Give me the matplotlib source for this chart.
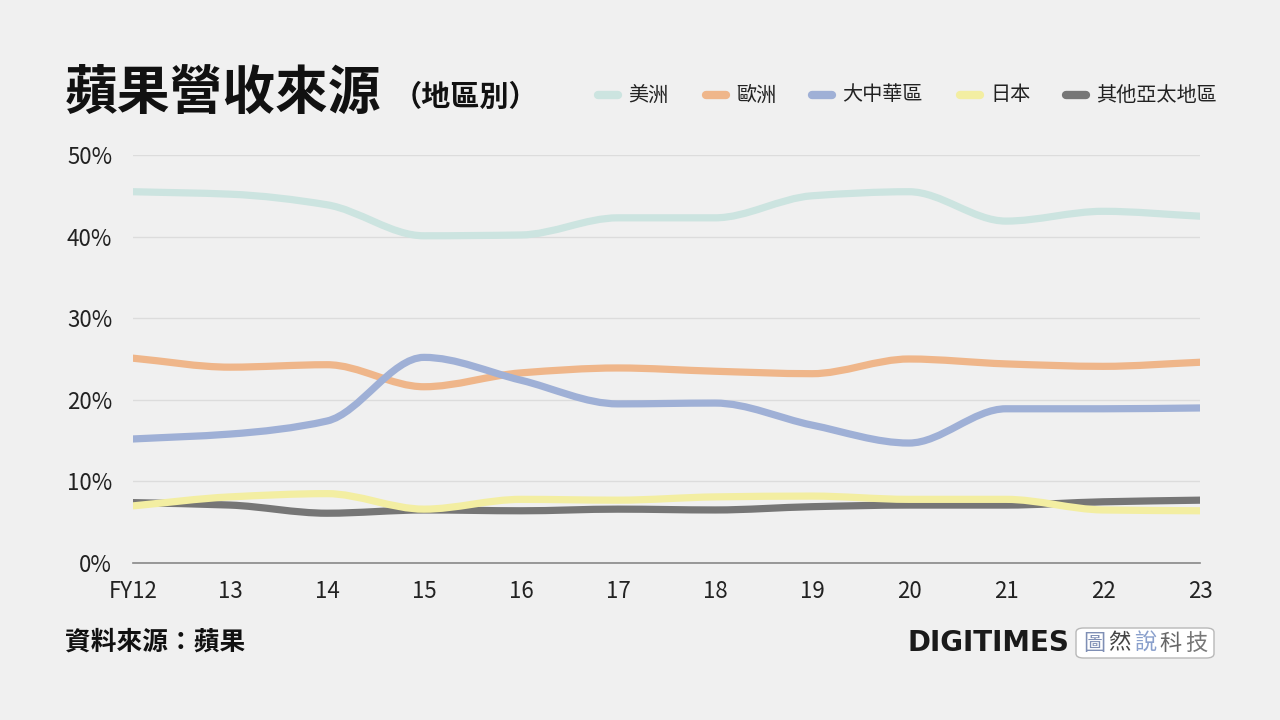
import numpy as np
import matplotlib
matplotlib.use("Agg")
import matplotlib.pyplot as plt
from matplotlib.path import Path
from matplotlib.patches import PathPatch, FancyBboxPatch
from matplotlib.lines import Line2D

plt.rcParams['font.family'] = ['Noto Sans CJK TC', 'DejaVu Sans']

# data (share of Apple revenue, %)
years = ['FY12', '13', '14', '15', '16', '17', '18', '19', '20', '21', '22', '23']
americas = [45.5, 45.2, 43.9, 40.1, 40.2, 42.3, 42.3, 45.0, 45.5, 41.9, 43.1, 42.5]
europe = [25.1, 24.0, 24.3, 21.6, 23.3, 23.9, 23.5, 23.2, 25.0, 24.4, 24.1, 24.6]
greater_china = [15.2, 15.8, 17.4, 25.2, 22.4, 19.5, 19.6, 16.9, 14.7, 18.9, 18.9, 19.0]
japan = [7.0, 8.1, 8.5, 6.6, 7.8, 7.7, 8.1, 8.2, 7.8, 7.8, 6.5, 6.4]
rest_apac = [7.4, 7.1, 6.1, 6.5, 6.4, 6.6, 6.5, 6.9, 7.1, 7.1, 7.5, 7.7]

series_names = ['美洲', '歐洲', '大中華區', '日本', '其他亞太地區']
series_values = [americas, europe, greater_china, japan, rest_apac]
colors = ['#cce4e0', '#efb68a', '#9fb0d6', '#f3eea2', '#767676']
zorders = [3, 4, 5, 7, 6]

BG = '#f0f0f0'


def smooth_path(x, y):
    # monotone cubic (Fritsch-Carlson) tangents -> bezier segments
    x = np.asarray(x, float)
    y = np.asarray(y, float)
    h = np.diff(x)
    d = np.diff(y) / h
    m = np.zeros_like(y)
    m[0], m[-1] = d[0], d[-1]
    for i in range(1, len(y) - 1):
        if d[i - 1] * d[i] <= 0:
            m[i] = 0
        else:
            m[i] = 2 / (1 / d[i - 1] + 1 / d[i])
    verts = [(x[0], y[0])]
    codes = [Path.MOVETO]
    for i in range(len(x) - 1):
        verts += [(x[i] + h[i] / 3, y[i] + m[i] * h[i] / 3),
                  (x[i + 1] - h[i] / 3, y[i + 1] - m[i + 1] * h[i] / 3),
                  (x[i + 1], y[i + 1])]
        codes += [Path.CURVE4] * 3
    return Path(verts, codes)


fig = plt.figure(figsize=(12.8, 7.2), dpi=100, facecolor=BG)
ax = fig.add_axes([133 / 1280, 157 / 720, (1200 - 133) / 1280, (563 - 155) / 720])
ax.set_facecolor(BG)

xs = np.arange(len(years))
for vals, c, z in zip(series_values, colors, zorders):
    p = PathPatch(smooth_path(xs, vals), fill=False, edgecolor=c, lw=5.2,
                  capstyle='round', joinstyle='round', zorder=z)
    ax.add_patch(p)

ax.set_xlim(0, len(years) - 1)
ax.set_ylim(0, 50)
ax.set_yticks([0, 10, 20, 30, 40, 50])
ax.set_yticklabels([f'{v}%' for v in [0, 10, 20, 30, 40, 50]])
ax.set_xticks(xs)
ax.set_xticklabels(years)
ax.tick_params(length=0, labelsize=16, colors='#222222')
ax.tick_params(axis='y', pad=15)
ax.tick_params(axis='x', pad=12)
ax.grid(axis='y', color='#dcdcdc', lw=1)
ax.set_axisbelow(True)
for s in ['top', 'right', 'left']:
    ax.spines[s].set_visible(False)
ax.spines['bottom'].set_color('#888888')
ax.spines['bottom'].set_linewidth(1.2)
ax.spines['bottom'].set_zorder(2)

# title
fig.text(65 / 1280, 1 - 93 / 720, '蘋果營收來源', fontsize=38, fontweight='bold',
         color='#111111', va='center', ha='left')
fig.text(393 / 1280, 1 - 97 / 720, '（地區別）', fontsize=21, fontweight='bold',
         color='#111111', va='center', ha='left')

# legend
leg_x = [598, 706, 812, 960, 1066]
for name, c, lx in zip(series_names, colors, leg_x):
    fig.add_artist(Line2D([lx / 1280, (lx + 20) / 1280], [1 - 95 / 720] * 2,
                          color=c, lw=6, solid_capstyle='round'))
    fig.text((lx + 30) / 1280, 1 - 95 / 720, name, fontsize=14.5, color='#222222',
             va='center', ha='left')

# source
fig.text(65 / 1280, 1 - 642 / 720, '資料來源：蘋果', fontsize=18.5, fontweight='bold',
         color='#111111', va='center', ha='left')

# logo
fig.text(907 / 1280, 1 - 643 / 720, 'DIGITIMES', fontsize=20, fontweight='heavy',
         family='DejaVu Sans', color='#1a1a1a', va='center', ha='left')
box = FancyBboxPatch((1076 / 1280, 1 - 658 / 720), 138 / 1280, 30 / 720,
                     boxstyle='round,pad=0,rounding_size=0.006',
                     transform=fig.transFigure, facecolor='white',
                     edgecolor='#b8b8b8', lw=1)
fig.add_artist(box)
logo_chars = ['圖', '然', '說', '科', '技']
logo_colors = ['#7f8fb5', '#444444', '#8aa0cc', '#666666', '#777777']
for i, (ch, c) in enumerate(zip(logo_chars, logo_colors)):
    fig.text((1083 + i * 25.5) / 1280, 1 - 643 / 720, ch, fontsize=16, color=c,
             va='center', ha='left')

fig.savefig('out.png', dpi=100, facecolor=BG)
